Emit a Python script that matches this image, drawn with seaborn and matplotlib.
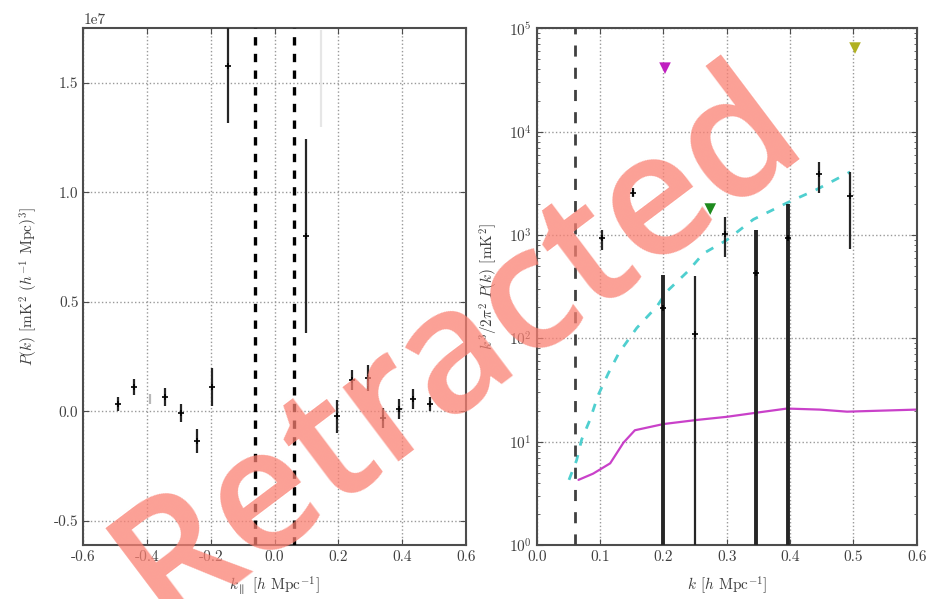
import matplotlib
matplotlib.use("Agg")
import matplotlib.pyplot as plt
import numpy as np
import pandas as pd
import seaborn as sns

# ---- left panel: P(k) versus k_parallel, in units of 1e7 mK^2 (h^-1 Mpc)^3 ----
kpar = [-0.490, -0.440, -0.343, -0.293, -0.244, -0.197, -0.145,
        0.100, 0.196, 0.243, 0.292, 0.341, 0.390, 0.436, 0.488]
pk = [0.035, 0.110, 0.064, -0.007, -0.137, 0.110, 1.578,
      0.800, -0.023, 0.145, 0.153, -0.030, 0.011, 0.057, 0.034]
pk_err = [0.032, 0.037, 0.041, 0.041, 0.055, 0.087, 0.260,
          0.442, 0.076, 0.046, 0.060, 0.046, 0.046, 0.046, 0.034]

# faint (greyed-out) bins
kpar_faint = [-0.392, 0.146]
pk_faint = [0.058, 1.52]
pk_faint_err = [0.023, 0.22]

horizon_kpar = [-0.06, 0.06]

# ---- right panel: Delta^2(k) = k^3/2pi^2 P(k) in mK^2 ----
k_delta = [0.1026, 0.1525, 0.200, 0.250, 0.297, 0.347, 0.396, 0.445, 0.494]
delta = [944, 2570, 198, 111, 1018, 431, 944, 3890, 2390]
delta_lo = [718, 2355, 0, 0, 617, 0, 0, 2540, 728]
delta_hi = [1122, 2877, 411, 398, 1507, 1113, 1977, 5130, 4110]

# upper limits from earlier measurements
k_limits = [0.2026, 0.274, 0.5026]
limits = [41100, 1780, 64300]

# theory / noise curves (log10 of mK^2)
k_model = [0.051, 0.063, 0.071, 0.084, 0.097, 0.113, 0.130, 0.158, 0.190,
           0.205, 0.239, 0.263, 0.300, 0.342, 0.395, 0.442, 0.495]
log_model = [0.63, 0.82, 1.02, 1.21, 1.45, 1.66, 1.86, 2.10, 2.31,
             2.45, 2.65, 2.82, 2.95, 3.15, 3.31, 3.44, 3.61]
k_noise = [0.066, 0.089, 0.116, 0.137, 0.155, 0.200, 0.253, 0.300,
           0.347, 0.395, 0.447, 0.490, 0.600]
log_noise = [0.63, 0.69, 0.79, 0.99, 1.11, 1.17, 1.21, 1.24,
             1.28, 1.32, 1.31, 1.29, 1.31]

horizon_k = 0.06

sns.set_style("ticks")
plt.rcParams.update({
    "font.family": ["serif"],
    "font.serif": ["cmr10", "DejaVu Serif"],
    "mathtext.fontset": "cm",
    "axes.formatter.use_mathtext": False,
    "axes.unicode_minus": False,
    "font.size": 10,
    "axes.edgecolor": "0.3",
    "axes.linewidth": 1.5,
    "xtick.direction": "in",
    "ytick.direction": "in",
    "xtick.top": True,
    "ytick.right": True,
    "xtick.major.size": 4,
    "ytick.major.size": 4,
    "ytick.minor.size": 2.5,
    "xtick.color": "0.3",
    "ytick.color": "0.3",
    "xtick.labelcolor": "0.25",
    "ytick.labelcolor": "0.25",
    "axes.labelcolor": "0.25",
})

fig = plt.figure(figsize=(9.3, 5.99), dpi=100)
ax1 = fig.add_axes([0.0896, 0.0902, 0.4112, 0.8626])
ax2 = fig.add_axes([0.5771, 0.0902, 0.4086, 0.8626])

grid_kw = dict(color="0.6", linestyle=":", linewidth=1.0)

# ---------------- left panel ----------------
left = pd.DataFrame({"k": kpar, "p": np.array(pk) * 1e7, "e": np.array(pk_err) * 1e7})
faint = pd.DataFrame({"k": kpar_faint, "p": np.array(pk_faint) * 1e7,
                      "e": np.array(pk_faint_err) * 1e7})
faint_shades = ["0.72", "0.9"]

ax1.grid(True, **grid_kw)
for (_, row), shade in zip(faint.iterrows(), faint_shades):
    ax1.errorbar(row["k"], row["p"], yerr=row["e"], fmt="none",
                 ecolor=shade, elinewidth=1.6, zorder=3)
ax1.errorbar(left["k"], left["p"], yerr=left["e"], fmt="none",
             ecolor="0.15", elinewidth=1.6, zorder=3)
sns.scatterplot(data=left, x="k", y="p", ax=ax1, color="k", marker="+",
                s=22, linewidth=1.2, zorder=4, legend=False)
for kh in horizon_kpar:
    ax1.axvline(kh, color="k", linestyle=(0, (2.5, 2.5)), linewidth=2.4, zorder=5)

ax1.set_xlim(-0.6, 0.6)
ax1.set_ylim(-0.61e7, 1.75e7)
ax1.set_xticks([-0.6, -0.4, -0.2, 0.0, 0.2, 0.4, 0.6])
ax1.set_yticks([-0.5e7, 0.0, 0.5e7, 1.0e7, 1.5e7])
ax1.set_xlabel(r"$k_\parallel$ [$h$ Mpc$^{-1}$]", fontsize=11, labelpad=8)
ax1.set_ylabel(r"$P(k)$ [mK$^2$ $(h^{-1}$ Mpc$)^3$]", fontsize=11, labelpad=10)
ax1.yaxis.get_offset_text().set_fontsize(11)

# ---------------- right panel ----------------
ax2.set_yscale("log")
ax2.grid(True, which="major", **grid_kw)

right = pd.DataFrame({"k": k_delta, "d": delta, "lo": delta_lo, "hi": delta_hi})
yerr = np.vstack([right["d"] - right["lo"], right["hi"] - right["d"]])
bar_widths = [1.6, 1.6, 2.8, 1.6, 1.6, 2.8, 2.8, 1.6, 1.6]
for i in range(len(right)):
    ax2.errorbar(right["k"][i], right["d"][i], yerr=yerr[:, i:i + 1], fmt="none",
                 ecolor="0.15", elinewidth=bar_widths[i], zorder=3)
sns.scatterplot(data=right, x="k", y="d", ax=ax2, color="k", marker="+",
                s=22, linewidth=1.2, zorder=4, legend=False)

model = pd.DataFrame({"k": k_model, "d": 10 ** np.array(log_model)})
noise = pd.DataFrame({"k": k_noise, "d": 10 ** np.array(log_noise)})
sns.lineplot(data=model, x="k", y="d", ax=ax2, color="#4fcfcf",
             linewidth=2.0, linestyle=(0, (3, 3.5)), zorder=2)
sns.lineplot(data=noise, x="k", y="d", ax=ax2, color="#c020c0",
             linewidth=1.6, alpha=0.85, zorder=2)

lims = pd.DataFrame({"k": k_limits, "d": limits, "src": ["a", "b", "c"]})
sns.scatterplot(data=lims, x="k", y="d", hue="src", ax=ax2, marker="v", s=70,
                palette=["#c020c0", "#1e8a1e", "#b0b020"], edgecolor="none",
                legend=False, zorder=4)

ax2.axvline(horizon_k, color="0.25", linestyle=(0, (4, 4)), linewidth=2.0, zorder=5)

ax2.set_xlim(0.0, 0.6)
ax2.set_ylim(1, 1e5)
ax2.set_xticks([0.0, 0.1, 0.2, 0.3, 0.4, 0.5, 0.6])
ax2.set_xlabel(r"$k$ [$h$ Mpc$^{-1}$]", fontsize=11, labelpad=8)
ax2.set_ylabel(r"$k^3/2\pi^2\ P(k)$ [mK$^2$]", fontsize=11, labelpad=6)

for ax in (ax1, ax2):
    ax.tick_params(labelsize=11)

# retraction stamp across both panels
fig.text(0.494, 0.419, "Retracted", fontsize=124, family="Open Sans",
         weight=600, color="#fa8072", alpha=0.75, rotation=37,
         rotation_mode="anchor", ha="center", va="center", zorder=100)

fig.savefig("out.png", dpi=100)
